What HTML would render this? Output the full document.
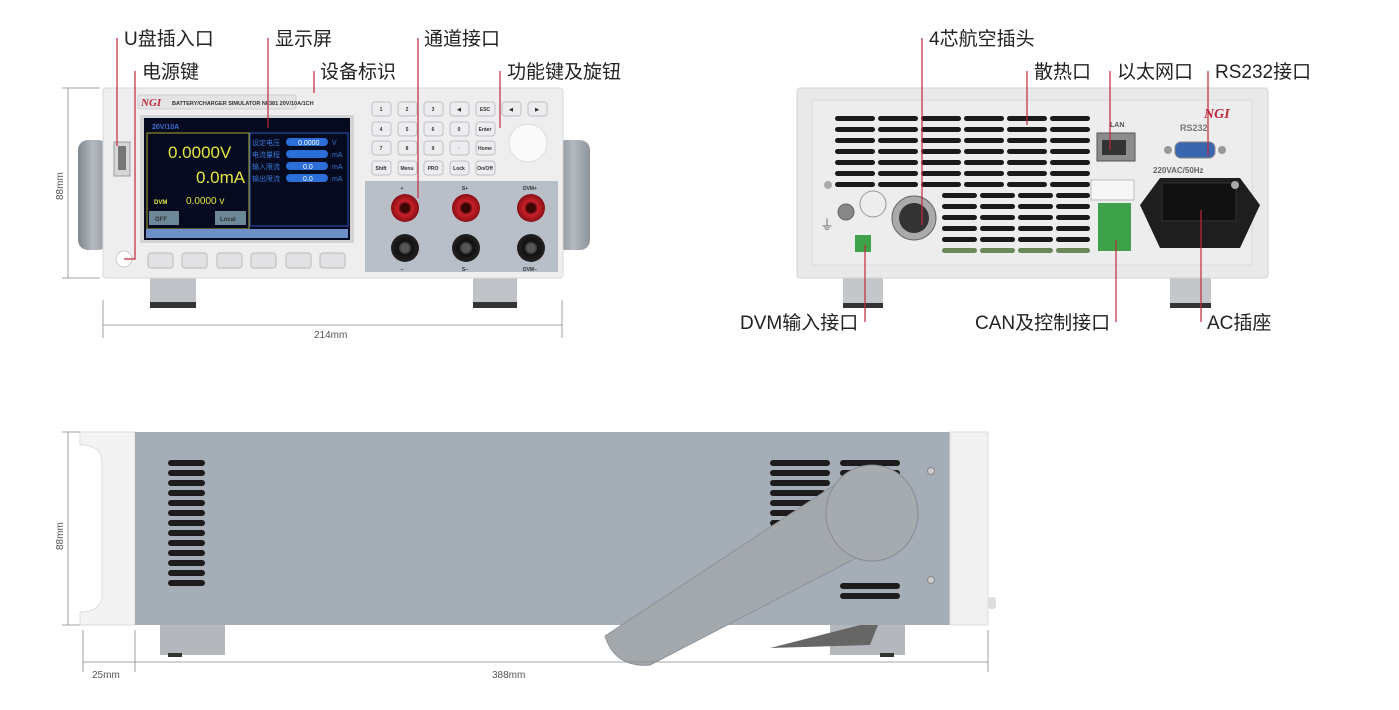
<!DOCTYPE html>
<html><head><meta charset="utf-8"><style>
html,body{margin:0;padding:0;background:#fff;width:1399px;height:710px;overflow:hidden}
svg{display:block}
.lb{font-family:"Liberation Sans","Noto Sans CJK SC",sans-serif;font-size:19px;fill:#222}
.dm{font-family:"Liberation Sans",sans-serif;font-size:10px;fill:#555}
.sm{font-family:"Liberation Sans",sans-serif;font-size:5px;fill:#333;font-weight:bold}
.ld{stroke:#c0283a;stroke-width:1.2;fill:none}
</style></head><body>
<svg width="1399" height="710" viewBox="0 0 1399 710" xmlns="http://www.w3.org/2000/svg">
<defs>
<linearGradient id="hg" x1="0" x2="1"><stop offset="0" stop-color="#7f868e"/><stop offset=".5" stop-color="#b5bac0"/><stop offset="1" stop-color="#8e959c"/></linearGradient>
<radialGradient id="rj"><stop offset=".3" stop-color="#3a0606"/><stop offset=".5" stop-color="#c8202a"/><stop offset="1" stop-color="#8a1018"/></radialGradient>
<radialGradient id="bj"><stop offset=".3" stop-color="#555"/><stop offset=".5" stop-color="#111"/><stop offset="1" stop-color="#222"/></radialGradient>
</defs>

<!-- ===== FRONT ===== -->
<rect x="78" y="140" width="30" height="110" rx="10" fill="url(#hg)"/>
<rect x="556" y="140" width="34" height="110" rx="10" fill="url(#hg)"/>
<rect x="150" y="276" width="46" height="32" fill="#bfc3c7"/><rect x="150" y="302" width="46" height="6" fill="#333"/>
<rect x="473" y="276" width="44" height="32" fill="#bfc3c7"/><rect x="473" y="302" width="44" height="6" fill="#333"/>
<rect x="103" y="88" width="460" height="190" rx="3" fill="#eeeeef" stroke="#d8d8da"/>
<rect x="138" y="95" width="158" height="14" rx="2" fill="#e4e4e6" stroke="#d0d0d2"/>
<text x="141" y="106" font-family="Liberation Serif" font-style="italic" font-weight="bold" font-size="11" fill="#c0283a">NGI</text>
<text x="172" y="105" class="sm" style="font-size:5.5px">BATTERY/CHARGER SIMULATOR  N8381 20V/10A/1CH</text>
<rect x="114" y="142" width="16" height="34" fill="#d6d6d8" stroke="#999"/><rect x="118" y="146" width="8" height="24" fill="#777"/>
<circle cx="124" cy="259" r="8" fill="#fff" stroke="#ccc"/>
<rect x="140" y="115" width="214" height="128" fill="#d4d4d6"/>
<rect x="144" y="118" width="206" height="122" fill="#050a1e"/>
<text x="152" y="129" class="sm" style="fill:#3a6fd0;font-size:7px">20V/10A</text>
<rect x="147" y="133" width="102" height="96" fill="none" stroke="#a8a830"/>
<text x="168" y="158" font-family="Liberation Sans" font-size="17" fill="#e6e640">0.0000V</text>
<text x="196" y="183" font-family="Liberation Sans" font-size="17" fill="#e6e640">0.0mA</text>
<text x="154" y="204" class="sm" style="fill:#e6e640;font-size:6px">DVM</text>
<text x="186" y="204" font-family="Liberation Sans" font-size="10" fill="#e6e640">0.0000 v</text>
<rect x="149" y="211" width="30" height="14" fill="#6c8898"/><text x="155" y="221" class="sm" style="font-size:6px">OFF</text>
<rect x="215" y="211" width="31" height="14" fill="#6c8898"/><text x="220" y="221" class="sm" style="font-size:6px">Local</text>
<rect x="250" y="133" width="98" height="93" fill="none" stroke="#2a56b8"/>
<g font-family="Liberation Sans,Noto Sans CJK SC" font-size="7" fill="#3a78d8">
<rect x="286" y="138" width="42" height="8" rx="4" fill="#2a6ed8"/><text x="298" y="145" fill="#fff">0.0000</text><text x="332" y="145">V</text>
<rect x="286" y="150" width="42" height="8" rx="4" fill="#2a6ed8"/><text x="332" y="157">mA</text>
<rect x="286" y="162" width="42" height="8" rx="4" fill="#2a6ed8"/><text x="303" y="169" fill="#fff">0.0</text><text x="332" y="169">mA</text>
<rect x="286" y="174" width="42" height="8" rx="4" fill="#2a6ed8"/><text x="303" y="181" fill="#fff">0.0</text><text x="332" y="181">mA</text>
<text x="252" y="145">设定电压</text><text x="252" y="157">电流量程</text><text x="252" y="169">输入限流</text><text x="252" y="181">输出限流</text>
</g>
<rect x="146" y="229" width="202" height="9" fill="#6c8fc8"/>
<g fill="#e2e2e4" stroke="#bbb"><rect x="148" y="253" width="25" height="15" rx="3"/><rect x="182" y="253" width="25" height="15" rx="3"/><rect x="217" y="253" width="25" height="15" rx="3"/><rect x="251" y="253" width="25" height="15" rx="3"/><rect x="286" y="253" width="25" height="15" rx="3"/><rect x="320" y="253" width="25" height="15" rx="3"/></g>
<g fill="#ededf0" stroke="#bcc0c6">
<rect x="372" y="102" width="19" height="14" rx="3"/><rect x="398" y="102" width="19" height="14" rx="3"/><rect x="424" y="102" width="19" height="14" rx="3"/><rect x="450" y="102" width="19" height="14" rx="3"/><rect x="476" y="102" width="19" height="14" rx="3"/><rect x="502" y="102" width="19" height="14" rx="3"/><rect x="528" y="102" width="19" height="14" rx="3"/>
<rect x="372" y="122" width="19" height="14" rx="3"/><rect x="398" y="122" width="19" height="14" rx="3"/><rect x="424" y="122" width="19" height="14" rx="3"/><rect x="450" y="122" width="19" height="14" rx="3"/><rect x="476" y="122" width="19" height="14" rx="3"/>
<rect x="372" y="141" width="19" height="14" rx="3"/><rect x="398" y="141" width="19" height="14" rx="3"/><rect x="424" y="141" width="19" height="14" rx="3"/><rect x="450" y="141" width="19" height="14" rx="3"/><rect x="476" y="141" width="19" height="14" rx="3"/>
<rect x="372" y="161" width="19" height="14" rx="3"/><rect x="398" y="161" width="19" height="14" rx="3"/><rect x="424" y="161" width="19" height="14" rx="3"/><rect x="450" y="161" width="19" height="14" rx="3"/><rect x="476" y="161" width="19" height="14" rx="3"/>
</g>
<g text-anchor="middle" font-family="Liberation Sans" font-size="5" font-weight="bold" fill="#333">
<text x="381" y="111">1</text><text x="407" y="111">2</text><text x="433" y="111">3</text><text x="459" y="111">◀</text><text x="485" y="111">ESC</text><text x="511" y="111">◀</text><text x="537" y="111">▶</text>
<text x="381" y="131">4</text><text x="407" y="131">5</text><text x="433" y="131">6</text><text x="459" y="131">0</text><text x="485" y="131">Enter</text>
<text x="381" y="150">7</text><text x="407" y="150">8</text><text x="433" y="150">9</text><text x="459" y="150">·</text><text x="485" y="150">Home</text>
<text x="381" y="170">Shift</text><text x="407" y="170">Menu</text><text x="433" y="170">PRO</text><text x="459" y="170">Lock</text><text x="485" y="170">On/Off</text>
</g>
<circle cx="528" cy="143" r="19" fill="#fafafa" stroke="#ddd"/>
<rect x="365" y="181" width="193" height="91" fill="#b9bfc8"/>
<circle cx="405" cy="208" r="14" fill="url(#rj)"/><circle cx="466" cy="208" r="14" fill="url(#rj)"/><circle cx="531" cy="208" r="14" fill="url(#rj)"/>
<circle cx="405" cy="248" r="14" fill="url(#bj)"/><circle cx="466" cy="248" r="14" fill="url(#bj)"/><circle cx="531" cy="248" r="14" fill="url(#bj)"/>
<g class="sm" text-anchor="middle"><text x="402" y="190">+</text><text x="465" y="190">S+</text><text x="530" y="190">DVM+</text><text x="402" y="271">−</text><text x="465" y="271">S−</text><text x="530" y="271">DVM−</text></g>
<g stroke="#888" stroke-width=".8"><line x1="68" y1="88" x2="68" y2="278"/><line x1="62" y1="88" x2="100" y2="88"/><line x1="62" y1="278" x2="100" y2="278"/>
<line x1="103" y1="300" x2="103" y2="338"/><line x1="562" y1="300" x2="562" y2="338"/><line x1="103" y1="325" x2="562" y2="325"/></g>
<text class="dm" x="0" y="0" transform="translate(63,200) rotate(-90)">88mm</text>
<text class="dm" x="314" y="338">214mm</text>
<g class="ld"><path d="M117 38V146"/><path d="M135 71V259H124"/><path d="M268 38V128"/><path d="M314 71V93"/><path d="M418 38V198"/><path d="M500 71V128"/></g>
<g class="lb"><text x="124" y="45">U盘插入口</text><text x="142" y="78">电源键</text><text x="275" y="45">显示屏</text><text x="320" y="78">设备标识</text><text x="424" y="45">通道接口</text><text x="507" y="78">功能键及旋钮</text></g>

<!-- ===== REAR ===== -->
<rect x="843" y="276" width="40" height="32" fill="#c4c7ca"/><rect x="843" y="303" width="40" height="5" fill="#333"/>
<rect x="1170" y="276" width="41" height="32" fill="#c4c7ca"/><rect x="1170" y="303" width="41" height="5" fill="#333"/>
<rect x="797" y="88" width="471" height="190" rx="3" fill="#e9e9ea" stroke="#d3d3d4"/>
<rect x="812" y="100" width="440" height="165" fill="#ededee" stroke="#dcdcdd"/>
<g fill="#1a1a1a">
<g id="vr"><rect x="835" y="116" width="40" height="5" rx="2.5"/><rect x="878" y="116" width="40" height="5" rx="2.5"/><rect x="921" y="116" width="40" height="5" rx="2.5"/><rect x="964" y="116" width="40" height="5" rx="2.5"/><rect x="1007" y="116" width="40" height="5" rx="2.5"/><rect x="1050" y="116" width="40" height="5" rx="2.5"/></g>
<use href="#vr" y="11"/><use href="#vr" y="22"/><use href="#vr" y="33"/><use href="#vr" y="44"/><use href="#vr" y="55"/><use href="#vr" y="66"/>
<g id="vr2"><rect x="942" y="193" width="35" height="5" rx="2.5"/><rect x="980" y="193" width="35" height="5" rx="2.5"/><rect x="1018" y="193" width="35" height="5" rx="2.5"/><rect x="1056" y="193" width="34" height="5" rx="2.5"/></g>
<use href="#vr2" y="11"/><use href="#vr2" y="22"/><use href="#vr2" y="33"/><use href="#vr2" y="44"/>
</g>
<g fill="#6a8a5a"><rect x="942" y="248" width="35" height="5" rx="2.5"/><rect x="980" y="248" width="35" height="5" rx="2.5"/><rect x="1018" y="248" width="35" height="5" rx="2.5"/><rect x="1056" y="248" width="34" height="5" rx="2.5"/></g>
<text x="1110" y="127" class="sm" style="font-size:7px;fill:#555">LAN</text>
<rect x="1097" y="133" width="38" height="28" fill="#8a8c8e" stroke="#555"/><rect x="1102" y="140" width="24" height="15" fill="#333"/>
<text x="1180" y="131" class="sm" style="font-size:9px;fill:#777">RS232</text>
<text x="1204" y="118" font-family="Liberation Serif" font-style="italic" font-weight="bold" font-size="14" fill="#c0283a">NGI</text>
<rect x="1175" y="142" width="40" height="16" rx="6" fill="#3a66b0" stroke="#888"/>
<circle cx="1168" cy="150" r="4" fill="#999"/><circle cx="1222" cy="150" r="4" fill="#999"/>
<text x="1153" y="173" class="sm" style="font-size:8px;fill:#666">220VAC/50Hz</text>
<path d="M1160 178H1240L1260 205L1240 248H1160L1140 205Z" fill="#1e1e1e"/>
<rect x="1162" y="183" width="74" height="38" fill="#111" stroke="#333"/>
<rect x="1091" y="180" width="43" height="20" fill="#f6f6f6" stroke="#888" stroke-width=".5"/>
<rect x="1098" y="203" width="33" height="48" fill="#3ea24a"/>
<circle cx="828" cy="185" r="4" fill="#aaa"/><circle cx="1235" cy="185" r="4" fill="#aaa"/>
<circle cx="846" cy="212" r="8" fill="#888" stroke="#666"/>
<circle cx="873" cy="204" r="13" fill="none" stroke="#999"/>
<circle cx="914" cy="218" r="22" fill="#aaa" stroke="#666"/><circle cx="914" cy="218" r="15" fill="#333"/>
<rect x="855" y="235" width="16" height="17" fill="#3ea24a"/>
<text x="820" y="230" font-size="14" fill="#666">⏚</text>
<g class="ld"><path d="M922 38V225"/><path d="M1027 71V125"/><path d="M1110 71V150"/><path d="M1208 71V156"/><path d="M865 245V322"/><path d="M1116 240V322"/><path d="M1201 210V322"/></g>
<g class="lb"><text x="929" y="45">4芯航空插头</text><text x="1034" y="78">散热口</text><text x="1117" y="78">以太网口</text><text x="1215" y="78">RS232接口</text>
<text x="740" y="329">DVM输入接口</text><text x="975" y="329">CAN及控制接口</text><text x="1207" y="329">AC插座</text></g>

<!-- ===== SIDE ===== -->
<rect x="160" y="625" width="65" height="30" fill="#b4b8bd"/><rect x="168" y="653" width="14" height="4" fill="#333"/>
<rect x="830" y="625" width="75" height="30" fill="#b4b8bd"/><rect x="880" y="653" width="14" height="4" fill="#333"/>
<path d="M770 648L880 620L870 645Z" fill="#666"/>
<path d="M80 432H135V625H80V612Q102 612 102 595V462Q102 445 80 445Z" fill="#f3f3f4" stroke="#ddd"/>
<rect x="135" y="432" width="815" height="193" fill="#a5adb6"/>
<rect x="950" y="432" width="38" height="193" fill="#f1f1f2" stroke="#ddd"/>
<rect x="988" y="597" width="8" height="12" rx="3" fill="#ddd"/>
<g fill="#1c1c1c">
<rect x="168" y="460" width="37" height="6" rx="3"/><rect x="168" y="470" width="37" height="6" rx="3"/><rect x="168" y="480" width="37" height="6" rx="3"/><rect x="168" y="490" width="37" height="6" rx="3"/><rect x="168" y="500" width="37" height="6" rx="3"/><rect x="168" y="510" width="37" height="6" rx="3"/><rect x="168" y="520" width="37" height="6" rx="3"/><rect x="168" y="530" width="37" height="6" rx="3"/><rect x="168" y="540" width="37" height="6" rx="3"/><rect x="168" y="550" width="37" height="6" rx="3"/><rect x="168" y="560" width="37" height="6" rx="3"/><rect x="168" y="570" width="37" height="6" rx="3"/><rect x="168" y="580" width="37" height="6" rx="3"/>
<rect x="770" y="460" width="60" height="6" rx="3"/><rect x="840" y="460" width="60" height="6" rx="3"/>
<rect x="770" y="470" width="60" height="6" rx="3"/><rect x="840" y="470" width="60" height="6" rx="3"/>
<rect x="770" y="480" width="60" height="6" rx="3"/><rect x="770" y="490" width="55" height="6" rx="3"/><rect x="770" y="500" width="55" height="6" rx="3"/><rect x="770" y="510" width="50" height="6" rx="3"/><rect x="770" y="520" width="45" height="6" rx="3"/>
<rect x="840" y="583" width="60" height="6" rx="3"/><rect x="840" y="593" width="60" height="6" rx="3"/>
</g>
<circle cx="931" cy="471" r="3.5" fill="#ccc" stroke="#888"/><circle cx="931" cy="580" r="3.5" fill="#ccc" stroke="#888"/>
<path d="M605 636L845 478L895 538L650 665Q615 668 605 636Z" fill="#a3a8ad" stroke="#8d9298"/>
<ellipse cx="872" cy="513" rx="46" ry="48" fill="#a6abb0" stroke="#868b91"/>
<g stroke="#888" stroke-width=".8"><line x1="68" y1="432" x2="68" y2="625"/><line x1="62" y1="432" x2="80" y2="432"/><line x1="62" y1="625" x2="80" y2="625"/>
<line x1="83" y1="630" x2="83" y2="672"/><line x1="135" y1="630" x2="135" y2="672"/><line x1="988" y1="630" x2="988" y2="672"/>
<line x1="83" y1="662" x2="988" y2="662"/></g>
<text class="dm" x="0" y="0" transform="translate(63,550) rotate(-90)">88mm</text>
<text class="dm" x="92" y="678">25mm</text><text class="dm" x="492" y="678">388mm</text>
</svg>
</body></html>
